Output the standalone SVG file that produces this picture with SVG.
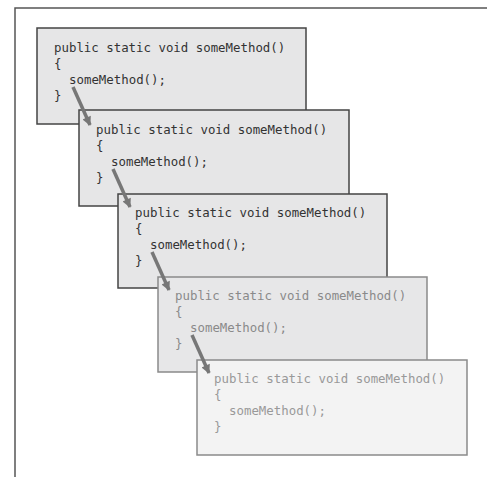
<svg xmlns="http://www.w3.org/2000/svg" width="487" height="477" viewBox="0 0 487 477">
<style>
.frame{fill:none;stroke:#555;stroke-width:1.5}
.box{stroke-width:1.5}
.d .box{fill:#e6e6e7;stroke:#444}
.l1 .box{fill:#e7e7e8;stroke:#8a8a8a}
.l2 .box{fill:#f3f3f3;stroke:#8a8a8a}
text{font-family:"DejaVu Sans Mono","Liberation Mono",monospace;font-size:12.4px}
.d text{fill:#333}
.l1 text{fill:#8a8a8a}
.l2 text{fill:#999}
.arr{stroke:#777;stroke-width:3.5;fill:none;marker-end:url(#ah)}
</style>
<defs>
<marker id="ah" viewBox="0 0 10 10" refX="9" refY="5" markerWidth="3.6" markerHeight="2.6" orient="auto" markerUnits="strokeWidth">
<path d="M0,0 L10,5 L0,10 Z" fill="#777"/>
</marker>
</defs>
<rect width="487" height="477" fill="#fff"/>
<path class="frame" d="M15,477 V8 H487"/>

<g id="call1" class="d">
<rect class="box" x="37" y="28" width="269" height="96"/>
<text x="54" y="52">public static void someMethod()</text>
<text x="54" y="68">{</text>
<text x="69" y="84">someMethod();</text>
<text x="54" y="100">}</text>
</g>
<g id="call2" class="d">
<rect class="box" x="79" y="110" width="270" height="96"/>
<text x="96" y="134">public static void someMethod()</text>
<text x="96" y="150">{</text>
<text x="111" y="166">someMethod();</text>
<text x="96" y="182">}</text>
</g>
<g id="call3" class="d">
<rect class="box" x="118" y="194" width="269" height="94"/>
<text x="135" y="217">public static void someMethod()</text>
<text x="135" y="233">{</text>
<text x="150" y="249">someMethod();</text>
<text x="135" y="265">}</text>
</g>
<g id="call4" class="l1">
<rect class="box" x="158" y="277" width="269" height="95"/>
<text x="175" y="300">public static void someMethod()</text>
<text x="175" y="316">{</text>
<text x="190" y="332">someMethod();</text>
<text x="175" y="348">}</text>
</g>
<g id="call5" class="l2">
<rect class="box" x="197" y="360" width="270" height="95"/>
<text x="214" y="383">public static void someMethod()</text>
<text x="214" y="399">{</text>
<text x="229" y="415">someMethod();</text>
<text x="214" y="431">}</text>
</g>

<g id="connectors">
<line class="arr" x1="73" y1="87" x2="90" y2="125"/>
<line class="arr" x1="113" y1="169" x2="130" y2="207"/>
<line class="arr" x1="152" y1="252" x2="169" y2="290"/>
<line class="arr" x1="192" y1="335" x2="209" y2="373"/>
</g>
</svg>
